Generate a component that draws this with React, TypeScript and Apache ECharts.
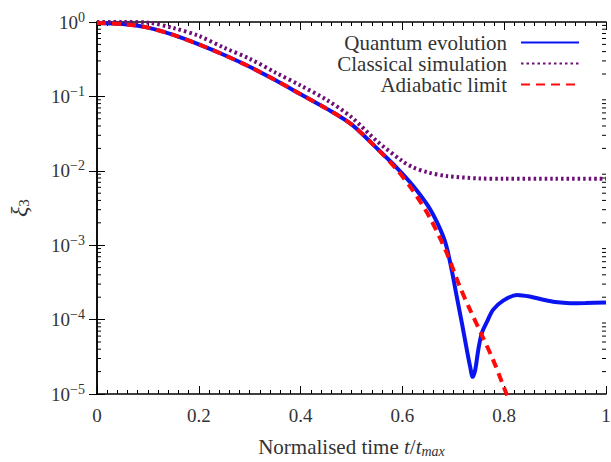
import React, { useEffect, useRef } from "react";
import * as echarts from "echarts";

// ---- data ----
const quantumX = [0, 0.05, 0.1, 0.15, 0.2, 0.25, 0.3, 0.35, 0.4, 0.45, 0.5, 0.55, 0.59, 0.62, 0.65, 0.67, 0.685, 0.697, 0.707, 0.717, 0.727, 0.733, 0.738, 0.743, 0.749, 0.756, 0.766, 0.778, 0.798, 0.825, 0.85, 0.875, 0.9, 0.93, 0.96, 1.0];
const quantumY = [0.97, 0.94, 0.84, 0.67, 0.5, 0.36, 0.25, 0.166, 0.107, 0.069, 0.042, 0.02, 0.0108, 0.0064, 0.0034, 0.0019, 0.00105, 4.6e-4, 2.0e-4, 8.9e-5, 3.8e-5, 2.35e-5, 1.7e-5, 2.1e-5, 3.9e-5, 6.6e-5, 9.3e-5, 1.35e-4, 1.8e-4, 2.14e-4, 2.04e-4, 1.86e-4, 1.72e-4, 1.66e-4, 1.67e-4, 1.7e-4];

const classicalX = [0, 0.05, 0.1, 0.15, 0.2, 0.25, 0.3, 0.35, 0.4, 0.45, 0.5, 0.55, 0.6, 0.62, 0.65, 0.687, 0.75, 0.8, 0.9, 1.0];
const classicalY = [1.0, 1.0, 0.98, 0.83, 0.65, 0.45, 0.32, 0.21, 0.14, 0.091, 0.0525, 0.025, 0.0135, 0.0112, 0.0095, 0.0085, 0.0079, 0.0078, 0.0078, 0.0078];

const adiabaticX = [0, 0.05, 0.1, 0.15, 0.2, 0.25, 0.3, 0.35, 0.4, 0.45, 0.5, 0.55, 0.59, 0.62, 0.654, 0.687, 0.713, 0.733, 0.756, 0.778, 0.8, 0.81];
const adiabaticY = [0.97, 0.94, 0.84, 0.67, 0.5, 0.36, 0.25, 0.166, 0.107, 0.069, 0.042, 0.02, 0.0102, 0.0055, 0.00234, 7.9e-4, 2.75e-4, 1.35e-4, 6.2e-5, 2.9e-5, 1.2e-5, 8e-6];

const seriesNames = ["Quantum evolution", "Classical simulation", "Adiabatic limit"];
const yDecades = [-5, -4, -3, -2, -1];
const yMinorMultipliers = [2, 3, 4, 5, 6, 7, 8, 9];

const FONT = "'Liberation Serif', 'Times New Roman', serif";
const TXT = "#333";

function pairs(xs: number[], ys: number[]) {
  return xs.map((x, i) => [x, ys[i]]);
}

export default function App() {
  const ref = useRef<HTMLDivElement>(null);
  useEffect(() => {
    if (!ref.current) return;
    const chart = echarts.init(ref.current, null, { renderer: "svg" });

    const minorVals: number[][] = [];
    yDecades.forEach((d) => yMinorMultipliers.forEach((m) => minorVals.push([0, m * Math.pow(10, d)])));

    const axisLine = { show: true, lineStyle: { color: "#000", width: 1.5 } };
    const xCommon = {
      type: "value",
      min: 0,
      max: 1,
      interval: 0.2,
      axisLine,
      axisTick: { show: true, inside: true, length: 8, lineStyle: { color: "#000", width: 1 } },
      minorTick: { show: true, splitNumber: 10, length: 4, lineStyle: { color: "#000", width: 1 } },
      splitLine: { show: false },
    };
    const yCommon = {
      type: "log",
      logBase: 10,
      min: 1e-5,
      max: 1,
      axisLine,
      axisTick: { show: true, inside: true, length: 8, lineStyle: { color: "#000", width: 1 } },
      splitLine: { show: false },
    };

    const legendBase = (name: string, top: number) => ({
      data: [name],
      orient: "vertical",
      right: 31,
      top,
      padding: 0,
      align: "right",
      itemWidth: 58,
      itemHeight: 14,
      itemStyle: { opacity: 0 },
      textStyle: { fontFamily: FONT, fontSize: 21, lineHeight: 17, color: TXT, padding: [0, 9, 0, 0] },
    });

    chart.setOption({
      animation: false,
      grid: { left: 97, right: 5, top: 22, bottom: 68, outerBoundsMode: "none", containLabel: false },
      legend: [legendBase(seriesNames[0], 32), legendBase(seriesNames[1], 53), legendBase(seriesNames[2], 74)],
      xAxis: [
        {
          ...xCommon,
          position: "bottom",
          name: "{n|Normalised time }{i|t}{n|/}{i|t}{s|max}",
          nameLocation: "middle",
          nameGap: 42,
          nameTextStyle: {
            rich: {
              n: { fontFamily: FONT, fontSize: 21, color: TXT },
              i: { fontFamily: FONT, fontSize: 21, fontStyle: "italic", color: TXT },
              s: { fontFamily: FONT, fontSize: 14, fontStyle: "italic", color: TXT, padding: [8, 0, 0, 0] },
            },
          },
          axisLabel: {
            show: true,
            margin: 12,
            fontFamily: FONT,
            fontSize: 19,
            color: TXT,
            formatter: (v: number) => String(Math.round(v * 10) / 10),
          },
        },
        { ...xCommon, position: "top", axisLabel: { show: false } },
      ],
      yAxis: [
        {
          ...yCommon,
          position: "left",
          name: "{a|ξ}{b|3}",
          nameLocation: "middle",
          nameGap: 66,
          nameRotate: 90,
          nameTextStyle: {
            rich: {
              a: { fontFamily: FONT, fontSize: 24, fontStyle: "italic", color: TXT },
              b: { fontFamily: FONT, fontSize: 15, color: TXT, padding: [10, 0, 0, 0] },
            },
          },
          axisLabel: {
            show: true,
            margin: 12,
            formatter: (v: number) => {
              const e = Math.round(Math.log10(v));
              return e === 0 ? "{b|10}{s|0}" : `{b|10}{s|−${Math.abs(e)}}`;
            },
            rich: {
              b: { fontFamily: FONT, fontSize: 19, color: TXT },
              s: { fontFamily: FONT, fontSize: 14, color: TXT, padding: [0, 0, 10, 0] },
            },
          },
        },
        { ...yCommon, position: "right", axisLabel: { show: false } },
      ],
      series: [
        {
          name: seriesNames[0],
          type: "line",
          data: pairs(quantumX, quantumY),
          symbol: "none",
          smooth: 0.3,
          clip: true,
          lineStyle: { color: "#0a14f0", width: 4 },
          itemStyle: { color: "#0a14f0" },
          z: 2,
        },
        {
          name: seriesNames[1],
          type: "line",
          data: pairs(classicalX, classicalY),
          symbol: "none",
          smooth: 0.3,
          clip: true,
          lineStyle: { color: "#6e0f78", width: 4, type: [2.5, 3], cap: "butt" },
          itemStyle: { color: "#6e0f78" },
          z: 3,
        },
        {
          name: seriesNames[2],
          type: "line",
          data: pairs(adiabaticX, adiabaticY),
          symbol: "none",
          smooth: 0.3,
          clip: true,
          lineStyle: { color: "#ff0a0a", width: 4, type: [9, 6], cap: "butt" },
          itemStyle: { color: "#ff0a0a" },
          z: 4,
        },
        {
          type: "custom",
          silent: true,
          clip: false,
          data: minorVals,
          renderItem: (params: any, api: any) => {
            const v = api.value(1);
            const l = api.coord([0, v]);
            const r = api.coord([1, v]);
            return {
              type: "group",
              children: [
                { type: "line", shape: { x1: l[0], y1: l[1], x2: l[0] + 4, y2: l[1] }, style: { stroke: "#000", lineWidth: 1 } },
                { type: "line", shape: { x1: r[0] - 4, y1: r[1], x2: r[0], y2: r[1] }, style: { stroke: "#000", lineWidth: 1 } },
              ],
            };
          },
          z: 1,
        },
      ],
    });
    return () => chart.dispose();
  }, []);
  return <div ref={ref} style={{ position: "fixed", left: 0, top: 0, width: 611, height: 462, background: "#fff" }} />;
}
